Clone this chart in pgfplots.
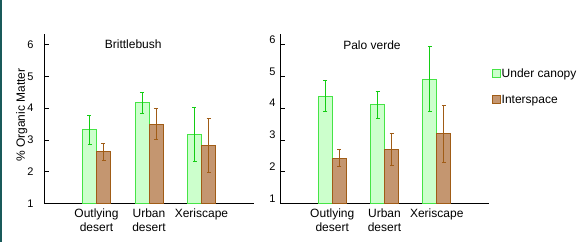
\documentclass[border=0pt]{standalone}
\usepackage{fontspec}
\setmainfont{Liberation Sans}
\usepackage{pgfplots}
\pgfplotsset{compat=1.18}
\definecolor{cgreenfill}{RGB}{204,255,204}
\definecolor{cgreenedge}{RGB}{70,228,70}
\definecolor{cgreenerr}{RGB}{20,205,20}
\definecolor{cbrownfill}{RGB}{196,150,112}
\definecolor{cbrownedge}{RGB}{160,92,22}
\definecolor{cteal}{RGB}{25,90,90}
\pgfplotsset{
  panel/.style={
    scale only axis, width=210pt, height=169.6pt,
    xmin=-1, xmax=3, ymin=1, ymax=6.35,
    axis lines*=left,
    ybar=0pt, bar width=14pt,
    xtick={0,1,2},
    xticklabels={{Outlying\\desert},{Urban\\desert},{Xeriscape}},
    xticklabel style={align=center, font=\fontsize{12}{14}\selectfont, yshift=-2pt},
    major x tick style={draw=none},
    ytick={1,2,3,4,5,6},
    tick align=inside, major tick length=5pt,
    y tick style={black, line width=0.6pt},
    yticklabel style={font=\fontsize{11}{13}\selectfont},
    /pgf/number format/assume math mode=true,
    axis line style={black, line width=0.8pt},
  },
  gbar/.style={fill=cgreenfill, draw=cgreenedge, line width=1pt,
    error bars/.cd, y dir=both, y explicit,
    error bar style={color=cgreenerr, line width=0.8pt},
    error mark options={rotate=90, mark size=2pt, color=cgreenerr, line width=0.8pt}},
  bbar/.style={fill=cbrownfill, draw=cbrownedge, line width=1pt,
    error bars/.cd, y dir=both, y explicit,
    error bar style={color=cbrownedge, line width=0.8pt},
    error mark options={rotate=90, mark size=2pt, color=cbrownedge, line width=0.8pt}},
}
\begin{document}
\begin{tikzpicture}
\path[use as bounding box] (0,0) rectangle (578pt,242pt);
\fill[white] (0,0) rectangle (578pt,242pt);
\fill[cteal] (0,0) rectangle (2.2pt,242pt);

\begin{axis}[panel, at={(44pt,38.7pt)}, anchor=south west,
  yticklabel style={xshift=-7pt},
  ylabel={\% Organic Matter},
  ylabel style={font=\fontsize{12}{14}\selectfont, at={(axis description cs:-0.106,0.52)}, anchor=center},
]
\addplot[gbar] coordinates {(0,3.32) +- (0,0.455) (1,4.17) +- (0,0.33) (2,3.18) +- (0,0.85)};
\addplot[bbar] coordinates {(0,2.63) +- (0,0.265) (1,3.50) +- (0,0.49) (2,2.82) +- (0,0.86)};
\node[font=\fontsize{12}{14}\selectfont] at (axis cs:0.70,6.02) {Brittlebush};
\end{axis}

\begin{axis}[panel, at={(280pt,38.7pt)}, anchor=south west, width=209pt,
  yticklabel style={yshift=5pt, xshift=-1pt},
  legend style={at={(1.012,0.80)}, anchor=north west, draw=none, fill=none,
    font=\fontsize{12}{14}\selectfont, row sep=14pt, inner sep=0pt,
    nodes={inner sep=1pt}},
  legend cell align=left,
  legend image code/.code={\draw[#1] (0pt,-4pt) rectangle (8pt,4pt);},
]
\addplot[gbar] coordinates {(0,4.38) +- (0,0.49) (1,4.11) +- (0,0.43) (2,4.92) +- (0,1.02)};
\addplot[bbar] coordinates {(0,2.42) +- (0,0.27) (1,2.70) +- (0,0.51) (2,3.20) +- (0,0.90)};
\legend{Under canopy, Interspace}
\node[font=\fontsize{12}{14}\selectfont] at (axis cs:0.76,5.99) {Palo verde};
\end{axis}
\end{tikzpicture}
\end{document}
